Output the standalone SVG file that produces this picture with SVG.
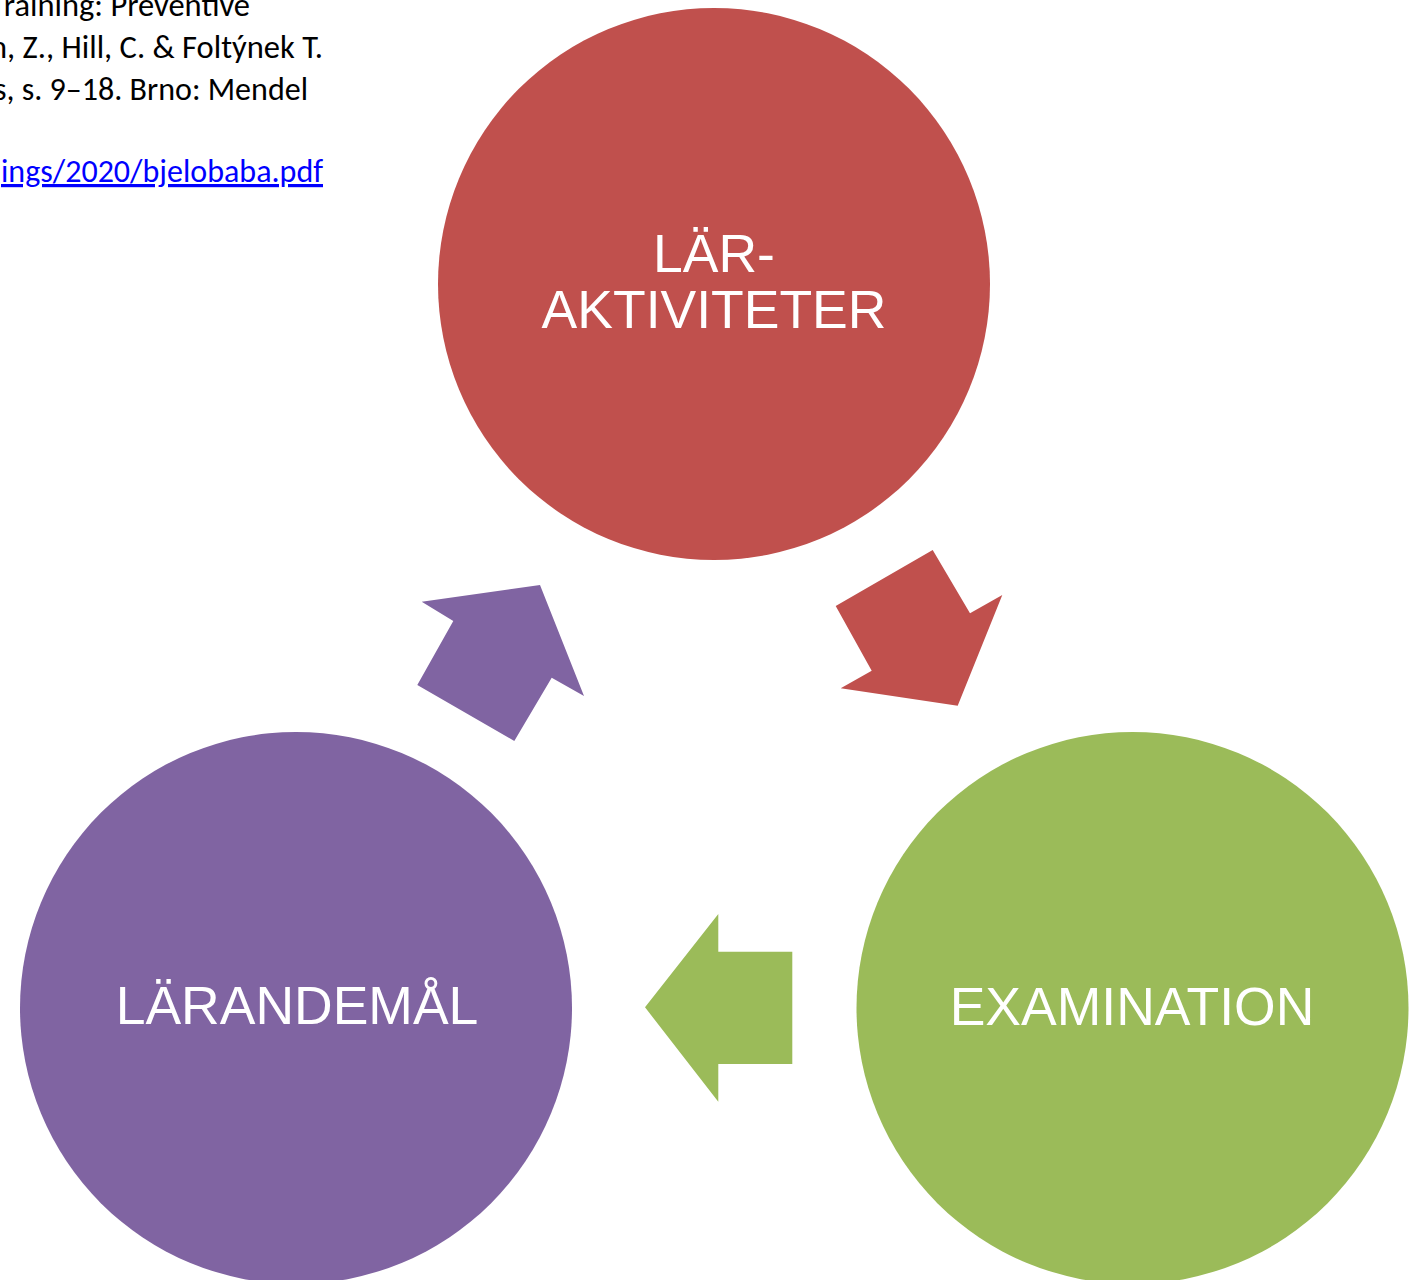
<svg xmlns="http://www.w3.org/2000/svg" width="1422" height="1280" viewBox="0 0 1422 1280">
<style>
.ref{font-family:Carlito,"Liberation Sans","Open Sans",sans-serif;font-size:32px;fill:#000}
.link{fill:#0000FF;text-decoration:underline}
.lbl{font-family:"Liberation Sans",Arial,sans-serif;font-size:53.5px;fill:#FFFFFF;text-anchor:middle}
.red{fill:#C0504D}.purple{fill:#8064A2}.green{fill:#9BBB59}
</style>
<rect width="1422" height="1280" fill="#FFFFFF"/>
<g id="reference-text">
<text class="ref" x="250" y="16" text-anchor="end" textLength="260" lengthAdjust="spacingAndGlyphs">Training: Preventive</text>
<text class="ref" x="323" y="58" text-anchor="end" textLength="333" lengthAdjust="spacingAndGlyphs">n, Z., Hill, C. &amp; Foltýnek T.</text>
<text class="ref" x="308" y="100" text-anchor="end" textLength="314" lengthAdjust="spacingAndGlyphs">s, s. 9–18. Brno: Mendel</text>
<text class="ref link" x="323" y="182" text-anchor="end" textLength="322" lengthAdjust="spacingAndGlyphs">ings/2020/bjelobaba.pdf</text>
</g>
<g id="node-laraktiviteter">
<circle class="red" cx="714" cy="284" r="276"/>
<text class="lbl" x="714" y="272">LÄR-</text>
<text class="lbl" x="714" y="328">AKTIVITETER</text>
</g>
<g id="node-examination">
<circle class="green" cx="1132.5" cy="1008" r="276"/>
<text class="lbl" x="1132" y="1025">EXAMINATION</text>
</g>
<g id="node-larandemal">
<circle class="purple" cx="296" cy="1008" r="276"/>
<text class="lbl" x="297" y="1024">LÄRANDEMÅL</text>
</g>
<g id="connectors">
<polygon class="red" points="932.7,550 970,613.3 1002.3,595 957.7,705.7 840.7,688.3 871.7,670.7 835.7,606"/>
<polygon class="green" points="718.3,914 718.3,951.7 792.3,951.7 792.3,1064 718.3,1064 718.3,1101.7 645,1007.3"/>
<polygon class="purple" points="421.7,601.7 540,585 584,696 551.7,677.7 514.3,741 417.3,685 453.3,621"/>
</g>
</svg>
